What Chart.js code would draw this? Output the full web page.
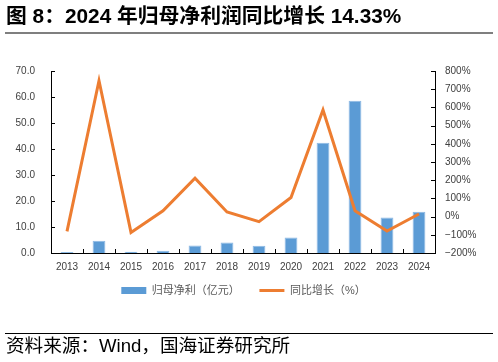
<!DOCTYPE html>
<html><head><meta charset="utf-8">
<script src="https://cdn.jsdelivr.net/npm/chart.js@4/dist/chart.umd.min.js"></script>
<style>
html,body{margin:0;padding:0;background:#fff;}
#wrap{position:relative;width:498px;height:362px;overflow:hidden;font-family:"Liberation Sans","Noto Sans CJK SC",sans-serif;}
#title{position:absolute;left:6px;top:3px;font-size:20.8px;line-height:26px;font-weight:bold;color:#000;white-space:nowrap;font-family:"Liberation Sans","Noto Sans CJK SC",sans-serif;}
#tline{position:absolute;left:5px;top:32px;width:488px;height:2px;background:#7f7f7f;}
#fline{position:absolute;left:5px;top:333px;width:488px;height:1px;background:#000;}
#src{position:absolute;left:6px;top:334px;font-size:18.6px;line-height:24px;color:#000;white-space:nowrap;font-family:"Liberation Sans","Noto Sans CJK SC",sans-serif;}
canvas{position:absolute;left:0;top:0;}
</style></head>
<body><div id="wrap">
<canvas id="c" width="498" height="362"></canvas>
<div id="title">图 8：2024 年归母净利润同比增长 14.33%</div>
<div id="tline"></div>
<div id="fline"></div>
<div id="src">资料来源：Wind，国海证券研究所</div>
</div>
<script>
const categories = ['2013','2014','2015','2016','2017','2018','2019','2020','2021','2022','2023','2024'];
const profit = [0.4, 4.7, 0.5, 0.9, 2.9, 4.0, 2.8, 6.0, 42.4, 58.6, 13.7, 15.9];
const growth = [-81, 747, -87, 32, 211, 25, -28, 105, 586, 32, -79, 14.33];
const leftTicks = [0,10,20,30,40,50,60,70];
const rightTicks = [-200,-100,0,100,200,300,400,500,600,700,800];
const seriesNames = ['归母净利（亿元）','同比增长（%）'];

const tickFont = {family:'"Liberation Sans","Noto Sans CJK SC",sans-serif', size:10};
const legendFont = {family:'"Liberation Sans","Noto Sans CJK SC",sans-serif', size:11};
const tickMarks = {
  id:'tickMarks',
  afterDraw(chart){
    const ctx = chart.ctx, a = chart.chartArea;
    ctx.save();
    ctx.strokeStyle = '#000'; ctx.lineWidth = 1;
    const y = chart.scales.y, y1 = chart.scales.y1, x = chart.scales.x;
    ctx.beginPath();
    y.ticks.forEach((t,i)=>{const p=Math.round(y.getPixelForTick(i))+0.5; ctx.moveTo(a.left,p); ctx.lineTo(a.left+4,p);});
    y1.ticks.forEach((t,i)=>{const p=Math.round(y1.getPixelForTick(i))+0.5; ctx.moveTo(a.right-4,p); ctx.lineTo(a.right,p);});
    for(let i=0;i<categories.length-1;i++){
      const p = Math.round((x.getPixelForValue(i)+x.getPixelForValue(i+1))/2)+0.5;
      ctx.moveTo(p,a.bottom); ctx.lineTo(p,a.bottom-4);
    }
    ctx.stroke();
    ctx.restore();
  }
};

new Chart(document.getElementById('c'), {
  data:{
    labels: categories,
    datasets:[
      {type:'bar', label:seriesNames[0], data:profit, yAxisID:'y', backgroundColor:'#5B9BD5', borderColor:'#8DB9E4', borderWidth:1, barPercentage:0.4, categoryPercentage:1, order:1},
      {type:'line', label:seriesNames[1], data:growth, yAxisID:'y1', borderColor:'#ED7D31', backgroundColor:'#ED7D31', borderWidth:3, pointRadius:0, tension:0, order:0}
    ]
  },
  options:{
    responsive:false, animation:false,
    layout:{padding:{top:71, left:0, right:11, bottom:56}},
    plugins:{
      tooltip:{enabled:false},
      legend:{position:'bottom', labels:{usePointStyle:true, pointStyleWidth:25, boxHeight:7, padding:8, color:'#595959', font:legendFont,
        sort:(a,b)=>a.datasetIndex-b.datasetIndex,
        generateLabels(chart){
          const items = Chart.defaults.plugins.legend.labels.generateLabels(chart);
          items.forEach(it=>{
            it.pointStyle = it.datasetIndex===0 ? 'rect' : 'line';
            if(it.datasetIndex===0){ it.lineWidth=0; it.text = it.text + '\u3000  '; }
          });
          return items;
        }}}
    },
    scales:{
      x:{grid:{display:false}, border:{display:true,color:'#000',width:1}, ticks:{color:'#404040', font:tickFont, padding:0, maxRotation:0, autoSkip:false},
        afterFit(s){s.height=24;}},
      y:{position:'left', min:0, max:70, grid:{display:false}, border:{display:true,color:'#000',width:1},
        afterBuildTicks(s){s.ticks = leftTicks.map(v=>({value:v}));},
        ticks:{color:'#404040', font:tickFont, padding:8, callback:v=>v.toFixed(1)},
        afterFit(s){s.width=51;}},
      y1:{position:'right', min:-200, max:800, grid:{display:false}, border:{display:true,color:'#000',width:1},
        afterBuildTicks(s){s.ticks = rightTicks.map(v=>({value:v}));},
        ticks:{color:'#404040', font:tickFont, padding:2, callback:v=>(v<0?'\u2212'+(-v):v)+'%'},
        afterFit(s){s.width=52;}}
    }
  },
  plugins:[tickMarks]
});
</script>
</body></html>
